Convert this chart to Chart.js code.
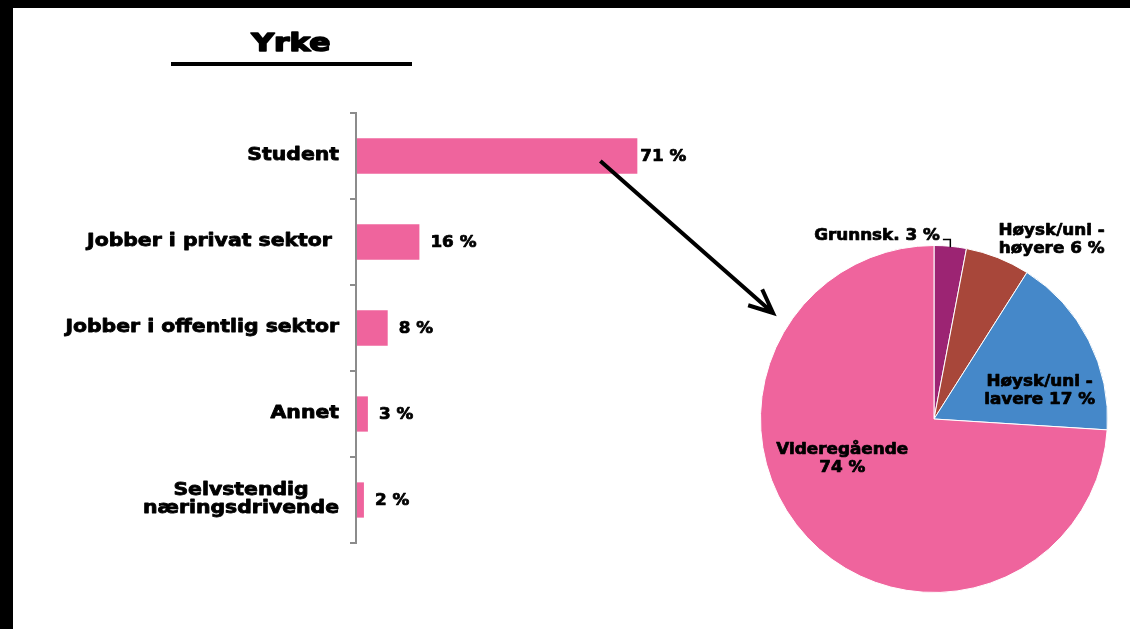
<!DOCTYPE html>
<html>
<head>
<meta charset="utf-8">
<script src="https://cdn.jsdelivr.net/npm/chart.js@4/dist/chart.umd.min.js"></script>
<style>
  html, body { margin: 0; padding: 0; width: 1130px; height: 629px; overflow: hidden; background: #000; }
  #paper { position: absolute; left: 13px; top: 8px; right: 0; bottom: 0; background: #fff; }
  canvas { position: absolute; left: 0; top: 0; }
</style>
</head>
<body>
<div id="paper"></div>
<canvas id="bars" width="1130" height="629"></canvas>
<canvas id="pie" width="1130" height="629"></canvas>
<script>
// Yrke (occupation) - bar chart
const jobCategories = ['Student', 'Jobber i privat sektor ', 'Jobber i offentlig sektor', 'Annet', ['Selvstendig', 'næringsdrivende']];
const jobShares = [71, 16, 8, 3, 2];

// Education among students - pie chart
const eduCategories = ['Grunnsk.', ['Høysk/uni -', 'høyere'], ['Høysk/uni -', 'lavere'], ['Videregående', '']];
const eduShares = [3, 6, 17, 74];

const PINK = '#EF649D';
const FONT = '"DejaVu Sans", sans-serif';

// draw text stretched horizontally and thickened, the source font is a wide black face
function wideText(ctx, text, x, y, align, sx, weight) {
  ctx.save();
  ctx.translate(x, y);
  ctx.scale(sx, 1);
  ctx.textAlign = align;
  ctx.textBaseline = 'middle';
  ctx.lineJoin = 'round';
  ctx.lineWidth = weight || 0.7;
  ctx.strokeStyle = ctx.fillStyle;
  ctx.fillText(text, 0, 0);
  ctx.strokeText(text, 0, 0);
  ctx.restore();
}

const barDecor = {
  id: 'barDecor',
  afterDraw(chart) {
    const ctx = chart.ctx;
    const yScale = chart.scales.y;
    const bars = chart.getDatasetMeta(0).data;
    ctx.save();
    ctx.fillStyle = '#000';

    // category labels, wrapped ones centred on each other
    ctx.font = 'bold 17px ' + FONT;
    const right = yScale.right - 17;
    jobCategories.forEach((label, i) => {
      const lines = Array.isArray(label) ? label : [label];
      const widest = Math.max(...lines.map(l => ctx.measureText(l).width)) * 1.2;
      const cx = right - widest / 2;
      const y = yScale.getPixelForValue(i);
      lines.forEach((l, j) => wideText(ctx, l, cx, y + (j - (lines.length - 1) / 2) * 18, 'center', 1.2, 0.8));
    });

    // value labels
    ctx.font = 'bold 15px ' + FONT;
    bars.forEach((bar, i) => {
      const gap = i === 0 ? 3 : 11;
      wideText(ctx, jobShares[i] + ' %', bar.x + gap, bar.y + 1, 'left', 1.12);
    });

    // title with underline
    ctx.font = 'bold 24px ' + FONT;
    wideText(ctx, 'Yrke', 291, 45, 'center', 1.3, 1.6);
    ctx.fillRect(171, 62, 241, 4);

    // arrow from the student bar to the pie
    const x0 = bars[0].x - 37, y0 = bars[0].y + 5;
    const x1 = 773, y1 = 313;
    ctx.strokeStyle = '#000';
    ctx.lineWidth = 4;
    ctx.lineCap = 'butt';
    ctx.beginPath();
    ctx.moveTo(x0, y0);
    ctx.lineTo(x1, y1);
    const ang = Math.atan2(y1 - y0, x1 - x0);
    const head = 26, spread = 0.42;
    ctx.moveTo(x1 - head * Math.cos(ang - spread), y1 - head * Math.sin(ang - spread));
    ctx.lineTo(x1, y1);
    ctx.lineTo(x1 - head * Math.cos(ang + spread), y1 - head * Math.sin(ang + spread));
    ctx.stroke();
    ctx.restore();
  }
};

new Chart(document.getElementById('bars'), {
  type: 'bar',
  data: {
    labels: jobCategories,
    datasets: [{
      data: jobShares,
      backgroundColor: PINK,
      barPercentage: 0.41,
      categoryPercentage: 1
    }]
  },
  options: {
    indexAxis: 'y',
    responsive: false,
    animation: false,
    layout: { padding: { left: 0, top: 113, right: 457, bottom: 86 } },
    plugins: { legend: { display: false }, tooltip: { enabled: false } },
    scales: {
      x: { display: false, min: 0, max: 80 },
      y: {
        grid: { drawOnChartArea: false, drawTicks: true, tickLength: 6, lineWidth: 2, color: '#8c8c8c', offset: true },
        border: { color: '#8c8c8c', width: 2, z: 1 },
        ticks: { display: false },
        afterFit(scale) { scale.width = 356; }
      }
    }
  },
  plugins: [barDecor]
});

// label spots relative to the pie centre, in units of the radius
const pieLabelSpots = [
  { dx: 0.034, dy: -1.057, align: 'right', leader: true },
  { dx: 0.678, dy: -1.029, align: 'center' },
  { dx: 0.609, dy: -0.161, align: 'center' },
  { dx: -0.529, dy: 0.230, align: 'center' }
];

const pieDecor = {
  id: 'pieDecor',
  afterDraw(chart) {
    const ctx = chart.ctx;
    const arcs = chart.getDatasetMeta(0).data;
    ctx.save();
    ctx.fillStyle = '#000';
    ctx.font = 'bold 15px ' + FONT;
    arcs.forEach((arc, i) => {
      const spot = pieLabelSpots[i];
      const r = arc.outerRadius;
      const cat = eduCategories[i];
      const lines = (Array.isArray(cat) ? cat.slice() : [cat]);
      lines[lines.length - 1] = (lines[lines.length - 1] + ' ' + eduShares[i] + ' %').trim();
      const x = arc.x + spot.dx * r;
      const y = arc.y + spot.dy * r;
      lines.forEach((l, j) => wideText(ctx, l, x, y + (j - (lines.length - 1) / 2) * 18, spot.align, 1.12));
      if (spot.leader) {
        const mid = (arc.startAngle + arc.endAngle) / 2;
        const ex = arc.x + Math.cos(mid) * r;
        const ey = arc.y + Math.sin(mid) * r;
        ctx.strokeStyle = '#000';
        ctx.lineWidth = 1.5;
        ctx.beginPath();
        ctx.moveTo(x + 3, y + 4);
        ctx.lineTo(ex, y + 4);
        ctx.lineTo(ex, ey + 1);
        ctx.stroke();
      }
    });
    ctx.restore();
  }
};

new Chart(document.getElementById('pie'), {
  type: 'pie',
  data: {
    labels: eduCategories.map(c => Array.isArray(c) ? c.join(' ').trim() : c),
    datasets: [{
      data: eduShares,
      backgroundColor: ['#9C2473', '#A8473A', '#4588C9', PINK],
      borderColor: '#fff',
      borderWidth: 1
    }]
  },
  options: {
    responsive: false,
    animation: false,
    layout: { padding: { left: 760, right: 22, top: 245, bottom: 36 } },
    plugins: { legend: { display: false }, tooltip: { enabled: false } }
  },
  plugins: [pieDecor]
});
</script>
</body>
</html>
